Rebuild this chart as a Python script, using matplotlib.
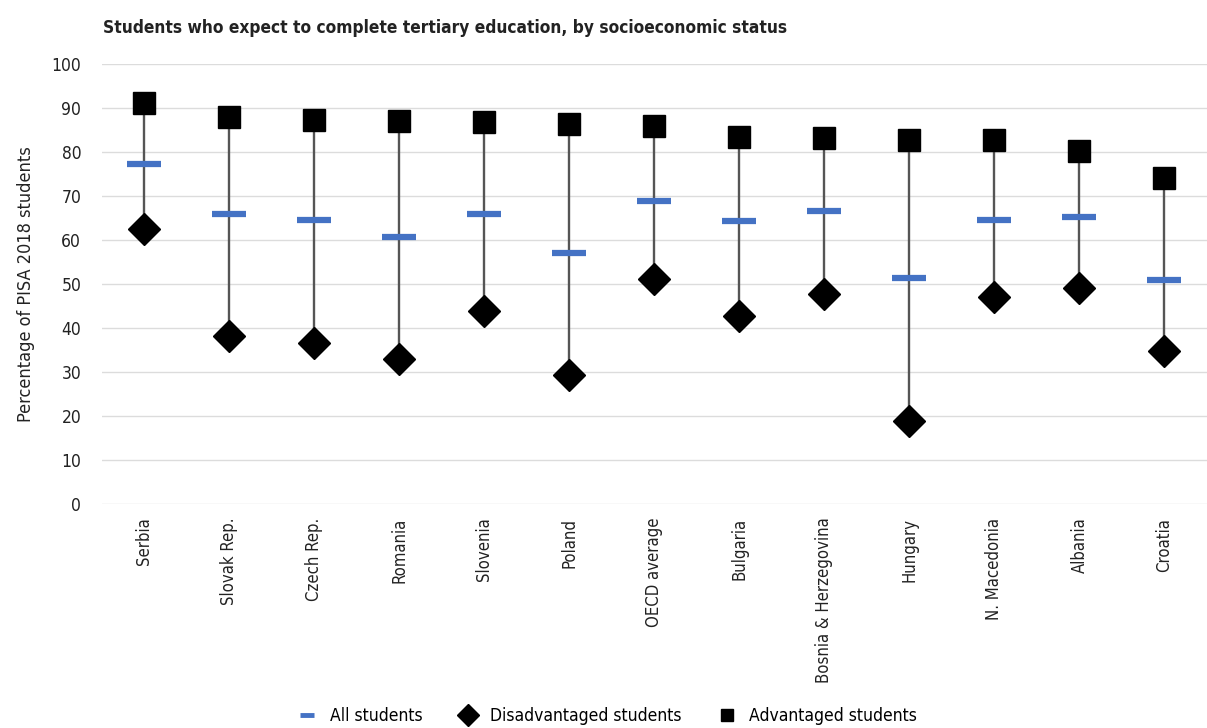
import matplotlib

matplotlib.use("Agg")
import matplotlib.pyplot as plt
from matplotlib.lines import Line2D

plt.rcParams["font.family"] = ["DejaVu Sans"]
plt.rcParams["font.stretch"] = "condensed"

countries = [
    "Serbia", "Slovak Rep.", "Czech Rep.", "Romania", "Slovenia", "Poland",
    "OECD average", "Bulgaria", "Bosnia & Herzegovina", "Hungary",
    "N. Macedonia", "Albania", "Croatia",
]
all_students = [77.3, 65.9, 64.5, 60.7, 65.9, 57.0, 68.9, 64.3, 66.6, 51.4, 64.5, 65.2, 50.9]
disadvantaged = [62.5, 38.2, 36.6, 33.0, 43.9, 29.3, 51.1, 42.7, 47.7, 18.9, 47.0, 49.1, 34.8]
advantaged = [91.1, 88.0, 87.3, 87.0, 86.8, 86.4, 85.9, 83.4, 83.2, 82.7, 82.7, 80.2, 74.1]

BLUE = "#4472C4"

fig = plt.figure(figsize=(12.07, 7.28), dpi=100)
ax = fig.add_axes([0.0845, 0.308, 0.9155, 0.604])

x = list(range(len(countries)))
ax.vlines(x, disadvantaged, advantaged, color="#555555", lw=1.7, zorder=2)
ax.plot(x, disadvantaged, "D", color="black", ms=16, ls="none", zorder=3)
ax.plot(x, advantaged, "s", color="black", ms=16, ls="none", zorder=3)
ax.plot(x, all_students, "_", color=BLUE, ms=24, mew=4.5, ls="none", zorder=4)

ax.set_xlim(-0.5, len(countries) - 0.5)
ax.set_ylim(0, 100)
ax.set_yticks(range(0, 101, 10))
ax.set_xticks(x)
ax.set_xticklabels(countries, rotation=90, fontsize=12)
ax.tick_params(axis="both", length=0, labelsize=12.5, colors="#222222")
ax.tick_params(axis="x", pad=10, labelsize=12)
ax.tick_params(axis="y", pad=15)
ax.grid(axis="y", color="#dcdcdc", lw=1)
ax.set_axisbelow(True)
for spine in ax.spines.values():
    spine.set_visible(False)
ax.set_ylabel("Percentage of PISA 2018 students", fontsize=13, color="#222222", labelpad=12)

fig.text(0.085, 0.962, "Students who expect to complete tertiary education, by socioeconomic status",
         fontsize=12.4, fontweight="bold", color="#222222", va="center")

handles = [
    Line2D([], [], marker="_", color=BLUE, ls="none", ms=10, mew=3.5),
    Line2D([], [], marker="D", color="black", ls="none", ms=11),
    Line2D([], [], marker="s", color="black", ls="none", ms=9),
]
fig.legend(handles, ["All students", "Disadvantaged students", "Advantaged students"],
           loc="center", bbox_to_anchor=(0.5, 0.017), ncol=3, frameon=False,
           fontsize=12.5, handletextpad=0.3, columnspacing=1.6)

fig.savefig("out.png", dpi=100)
